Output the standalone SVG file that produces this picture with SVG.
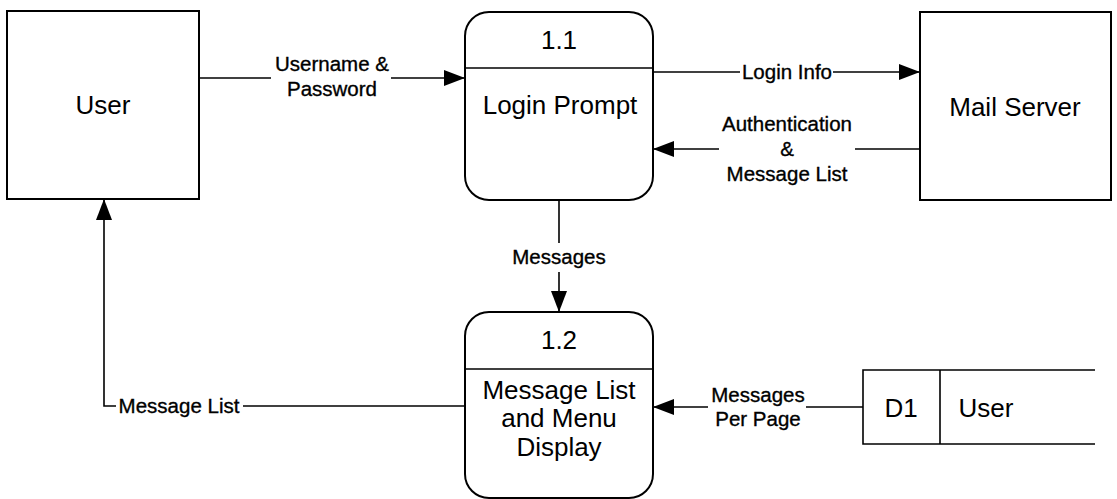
<svg xmlns="http://www.w3.org/2000/svg" width="1117" height="499" viewBox="0 0 1117 499">
<style>
.box{fill:#fff;stroke:#000;stroke-width:2}
.ln{fill:none;stroke:#000;stroke-width:1.6}
.nt{font-family:"Liberation Sans",Arial,sans-serif;font-size:26px;fill:#000;text-anchor:middle}
.lb{font-family:"Liberation Sans",Arial,sans-serif;font-size:20.5px;fill:#000;stroke:#000;stroke-width:0.35;text-anchor:middle}
</style>
<defs>
<marker id="arr" markerWidth="22" markerHeight="16" refX="21" refY="8" orient="auto" markerUnits="userSpaceOnUse">
<path d="M0,0 L21,8 L0,16 Z" fill="#000"/>
</marker>
</defs>
<rect width="1117" height="499" fill="#fff"/>
<g id="user">
<rect class="box" x="7" y="11" width="192" height="188"/>
<text class="nt" x="103" y="114">User</text>
</g>
<g id="p11">
<rect class="box" x="465" y="12" width="188" height="188" rx="24" ry="24"/>
<line class="ln" x1="465" y1="68" x2="653" y2="68" stroke-width="2"/>
<text class="nt" x="559" y="49" font-size="24">1.1</text>
<text class="nt" x="560" y="114">Login Prompt</text>
</g>
<g id="mail">
<rect class="box" x="920" y="12" width="191" height="188"/>
<text class="nt" x="1015" y="116">Mail Server</text>
</g>
<g id="p12">
<rect class="box" x="465" y="312" width="188" height="186" rx="24" ry="24"/>
<line class="ln" x1="465" y1="369" x2="653" y2="369" stroke-width="2"/>
<text class="nt" x="559" y="349" font-size="24">1.2</text>
<text class="nt" x="559" y="399">Message List</text>
<text class="nt" x="559" y="427">and Menu</text>
<text class="nt" x="559" y="456">Display</text>
</g>
<g id="d1">
<path class="ln" stroke-width="2" d="M1095,370 H863 V444 H1095 M940,370 V444"/>
<text class="nt" x="901" y="417">D1</text>
<text class="nt" x="986" y="417">User</text>
</g>
<g id="connectors">
<line class="ln" x1="199" y1="78" x2="271" y2="78"/>
<line class="ln" x1="391" y1="78" x2="465" y2="78" marker-end="url(#arr)"/>
<text class="lb" x="332" y="71">Username &amp;</text>
<text class="lb" x="332" y="96">Password</text>

<line class="ln" x1="653" y1="72" x2="740" y2="72"/>
<line class="ln" x1="833" y1="72" x2="920" y2="72" marker-end="url(#arr)"/>
<text class="lb" x="787" y="79">Login Info</text>

<line class="ln" x1="920" y1="149" x2="855" y2="149"/>
<line class="ln" x1="719" y1="149" x2="653" y2="149" marker-end="url(#arr)"/>
<text class="lb" x="787" y="131">Authentication</text>
<text class="lb" x="787" y="156">&amp;</text>
<text class="lb" x="787" y="181">Message List</text>

<line class="ln" x1="559" y1="200" x2="559" y2="243"/>
<line class="ln" x1="559" y1="272" x2="559" y2="312" marker-end="url(#arr)"/>
<text class="lb" x="559" y="264">Messages</text>

<line class="ln" x1="465" y1="406" x2="243" y2="406"/>
<path class="ln" d="M116,406 H104 V199" marker-end="url(#arr)"/>
<text class="lb" x="179" y="413">Message List</text>

<line class="ln" x1="863" y1="407" x2="806" y2="407"/>
<line class="ln" x1="708" y1="407" x2="653" y2="407" marker-end="url(#arr)"/>
<text class="lb" x="758" y="402">Messages</text>
<text class="lb" x="758" y="426">Per Page</text>
</g>
</svg>
